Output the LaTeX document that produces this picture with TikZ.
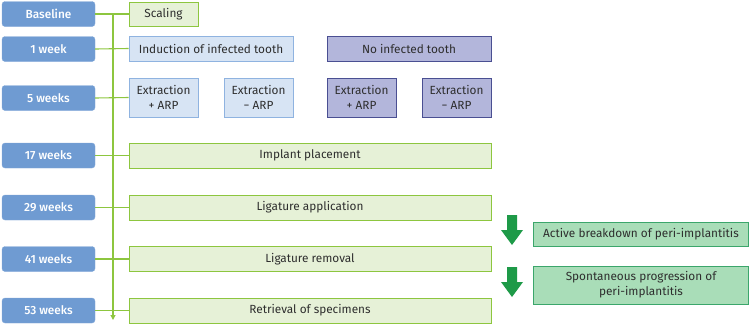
\documentclass[tikz,border=0pt]{standalone}
\usepackage{fontspec}
\setmainfont{Fira Sans}
\newfontfamily\medfont{Fira Sans Medium}
\usetikzlibrary{arrows.meta}
\definecolor{bluebox}{HTML}{6F9BD2}
\definecolor{lbfill}{HTML}{D7E4F4}
\definecolor{lbdraw}{HTML}{8FB3E0}
\definecolor{pufill}{HTML}{B3B6DB}
\definecolor{pudraw}{HTML}{4A4F92}
\definecolor{grfill}{HTML}{E6F1D7}
\definecolor{grdraw}{HTML}{8DC63F}
\definecolor{rtfill}{HTML}{A9DDB8}
\definecolor{rtdraw}{HTML}{3BA66B}
\definecolor{arrowgreen}{HTML}{1E9A48}
\begin{document}
\begin{tikzpicture}[x=1pt,y=-1pt,
  every node/.style={font=\fontsize{11.8}{15}\selectfont, inner sep=0pt, align=center},
  timebox/.style={fill=bluebox, draw=bluebox!85!white, rounded corners=3pt, text=white, font=\fontsize{11.8}{15}\selectfont\medfont, minimum width=93pt, minimum height=25pt},
  lbbox/.style={fill=lbfill, draw=lbdraw, line width=0.8pt, text=black!82},
  pubox/.style={fill=pufill, draw=pudraw, line width=0.8pt, text=black!82},
  grbox/.style={fill=grfill, draw=grdraw, line width=0.8pt, text=black!82},
  rtbox/.style={fill=rtfill, draw=rtdraw, line width=0.8pt, text=black!82, minimum width=215pt},
  conn/.style={draw=grdraw, line width=1.1pt},
  bigarrow/.style={fill=arrowgreen, draw=none}
]
\useasboundingbox (0,0) rectangle (750,325);

% time boxes
\node[timebox] (b0) at (48.5,14) {Baseline};
\node[timebox] (b1) at (48.5,49) {1 week};
\node[timebox] (b2) at (48.5,98) {5 weeks};
\node[timebox] (b3) at (48.5,155.5) {17 weeks};
\node[timebox] (b4) at (48.5,207.5) {29 weeks};
\node[timebox] (b5) at (48.5,259) {41 weeks};
\node[timebox] (b6) at (48.5,310.5) {53 weeks};

% vertical timeline
\coordinate (vtop) at (113,14);
\coordinate (vbot) at (113,320);
\draw[conn, -{Triangle[width=5pt,length=5pt]}] (vtop) -- (vbot);

% event boxes
\node[grbox, minimum width=69pt, minimum height=24pt] (g0) at (163.5,14) {Scaling};
\node[lbbox, minimum width=164pt, minimum height=25pt] (i1) at (211,48.5) {Induction of infected tooth};
\node[pubox, minimum width=164pt, minimum height=25pt] (n1) at (409,48.5) {No infected tooth};
\node[lbbox, minimum width=69pt, minimum height=39pt] (e1) at (163.5,97.5) {Extraction\\+ ARP};
\node[lbbox, minimum width=69pt, minimum height=39pt] (e2) at (258.5,97.5) {Extraction\\\textminus\ ARP};
\node[pubox, minimum width=69pt, minimum height=39pt] (e3) at (361.5,97.5) {Extraction\\+ ARP};
\node[pubox, minimum width=69pt, minimum height=39pt] (e4) at (456.5,97.5) {Extraction\\\textminus\ ARP};
\node[grbox, minimum width=362pt, minimum height=25pt] (p3) at (310,155.5) {Implant placement};
\node[grbox, minimum width=362pt, minimum height=25pt] (p4) at (310,207.5) {Ligature application};
\node[grbox, minimum width=362pt, minimum height=25pt] (p5) at (310,259) {Ligature removal};
\node[grbox, minimum width=362pt, minimum height=25pt] (p6) at (310,310.5) {Retrieval of specimens};

% right boxes
\node[rtbox, minimum height=24pt] (r1) at (641,234) {Active breakdown of peri-implantitis};
\node[rtbox, minimum height=38pt] (r2) at (641,285) {Spontaneous progression of\\peri-implantitis};

% connectors
\draw[conn] (b0.east) -- (g0.west);
\draw[conn] (b1.east) -- (i1.west);
\draw[conn] (b2.east) -- (e1.west);
\draw[conn] (b3.east) -- (p3.west);
\draw[conn] (b4.east) -- (p4.west);
\draw[conn] (b5.east) -- (p5.west);
\draw[conn] (b6.east) -- (p6.west);

% big green arrows
\fill[bigarrow] (507,215) -- (517,215) -- (517,230) -- (523,230) -- (512,245) -- (501,230) -- (507,230) -- cycle;
\fill[bigarrow] (507,267) -- (517,267) -- (517,282) -- (523,282) -- (512,297) -- (501,282) -- (507,282) -- cycle;
\end{tikzpicture}
\end{document}
